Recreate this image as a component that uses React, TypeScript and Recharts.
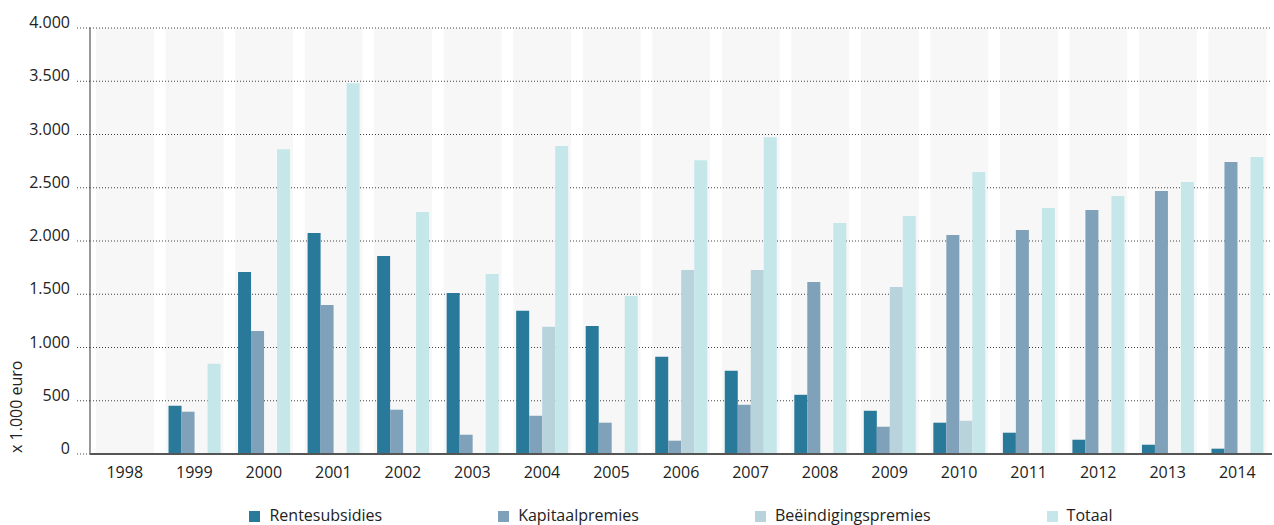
import { BarChart, Bar, XAxis, YAxis, CartesianGrid, Legend } from 'recharts';

const years = ['1998', '1999', '2000', '2001', '2002', '2003', '2004', '2005', '2006', '2007', '2008', '2009', '2010', '2011', '2012', '2013', '2014'];
const rentesubsidies = [0, 453, 1709, 2075, 1859, 1512, 1344, 1203, 912, 781, 556, 406, 294, 200, 134, 87, 50];
const kapitaalpremies = [0, 397, 1156, 1400, 416, 181, 359, 294, 125, 462, 1616, 256, 2056, 2103, 2291, 2469, 2741];
const beeindigingspremies = [0, 0, 0, 0, 0, 0, 1194, 0, 1728, 1728, 0, 1569, 312, 0, 0, 0, 0];
const totaal = [0, 847, 2862, 3481, 2272, 1691, 2891, 1484, 2759, 2975, 2169, 2234, 2647, 2309, 2422, 2553, 2788];
const yTicks = [0, 500, 1000, 1500, 2000, 2500, 3000, 3500, 4000];

const series = [
  { key: 'rentesubsidies', name: 'Rentesubsidies', color: '#29799a' },
  { key: 'kapitaalpremies', name: 'Kapitaalpremies', color: '#7fa1b9' },
  { key: 'beeindigingspremies', name: 'Beëindigingspremies', color: '#b9d3dd' },
  { key: 'totaal', name: 'Totaal', color: '#c5e7ea' },
];

const data = years.map((year, i) => ({
  year,
  rentesubsidies: rentesubsidies[i],
  kapitaalpremies: kapitaalpremies[i],
  beeindigingspremies: beeindigingspremies[i],
  totaal: totaal[i],
}));

const FONT = '"Open Sans", sans-serif';
const TEXT = '#222';

// 4000 -> "4.000"
const fmt = (v: number) => String(v).replace(/\B(?=(\d{3})+(?!\d))/g, '.');

const YTick = ({ x, y, payload }: any) => (
  <text x={x} y={y} textAnchor="end" fontSize={16} fill={TEXT}>
    {fmt(payload.value)}
  </text>
);

const YLabel = ({ viewBox }: any) => {
  const lx = viewBox.x + 22;
  const ly = viewBox.y + viewBox.height - 1;
  return (
    <text x={lx} y={ly} transform={`rotate(-90, ${lx}, ${ly})`} fontSize={16} fill={TEXT} textAnchor="start">
      x 1.000 euro
    </text>
  );
};

const renderLegend = () => (
  <div style={{ display: 'flex', justifyContent: 'center', gap: 116, paddingTop: 11, fontSize: 16, lineHeight: '20px', color: TEXT }}>
    {series.map((s) => (
      <div key={s.key} style={{ display: 'flex', alignItems: 'center' }}>
        <span style={{ display: 'inline-block', width: 11, height: 11, background: s.color, marginRight: 9, marginTop: 3 }} />
        <span>{s.name}</span>
      </div>
    ))}
  </div>
);

// grey band behind each year, drawn as the background of an invisible bar
const bandValue = () => 1;

export default function App() {
  return (
    <div style={{ position: 'absolute', left: 0, top: 0, fontFamily: FONT }}>
      <BarChart width={1274} height={525} data={data} barGap={0} margin={{ top: 28, right: 2, bottom: 0, left: 0 }}>
        <CartesianGrid vertical={false} stroke="#444" strokeDasharray="1 2" />
        <XAxis xAxisId="bg" dataKey="year" hide />
        <XAxis
          dataKey="year"
          interval={0}
          tickLine={false}
          tickSize={0}
          tickMargin={13}
          height={40}
          axisLine={{ stroke: '#555', strokeWidth: 2 }}
          tick={{ fill: TEXT, fontSize: 16 }}
        />
        <YAxis
          width={90}
          domain={[0, 4000]}
          ticks={yTicks}
          tickSize={13}
          tickMargin={7}
          tickLine={{ stroke: '#444', strokeDasharray: '1 2' }}
          axisLine={{ stroke: '#777', strokeWidth: 1.5 }}
          tick={<YTick />}
          label={{ content: <YLabel /> }}
        />
        <Legend verticalAlign="bottom" height={31} wrapperStyle={{ left: 90, width: 1182 }} content={renderLegend} />
        <Bar
          xAxisId="bg"
          dataKey={bandValue}
          barSize={58}
          fill="transparent"
          background={{ fill: 'rgba(0,0,0,0.031)' }}
          isAnimationActive={false}
          legendType="none"
        />
        {series.map((s) => (
          <Bar key={s.key} dataKey={s.key} name={s.name} fill={s.color} barSize={13} isAnimationActive={false} />
        ))}
      </BarChart>
    </div>
  );
}
